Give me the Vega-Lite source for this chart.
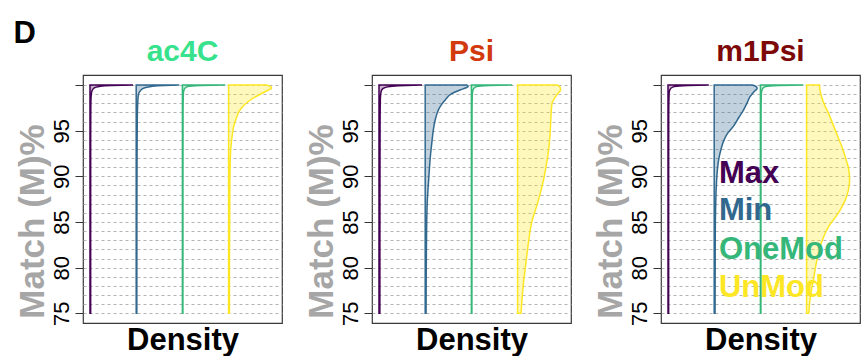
{
  "$schema": "https://vega.github.io/schema/vega-lite/v6.json",
  "padding": {"left": 13, "top": 18, "right": 0, "bottom": 0},
  "background": "white",
  "title": {"text": "D", "anchor": "start", "fontSize": 31, "fontWeight": "bold", "color": "#000000", "font": "Liberation Sans", "baseline": "alphabetic", "offset": -38, "dx": -1},
  "config": {
    "font": "Liberation Sans",
    "view": {"stroke": "#3a3a3a", "strokeWidth": 1.2},
    "concat": {"spacing": 20}
  },
  "datasets": {
    "dens": [
      {"p":"ac4C","g":"Max","y":75,"d":0.015},{"p":"ac4C","g":"Max","y":85,"d":0.015},{"p":"ac4C","g":"Max","y":95,"d":0.016},{"p":"ac4C","g":"Max","y":98,"d":0.02},{"p":"ac4C","g":"Max","y":99,"d":0.03},{"p":"ac4C","g":"Max","y":99.4,"d":0.05},{"p":"ac4C","g":"Max","y":99.7,"d":0.1},{"p":"ac4C","g":"Max","y":99.85,"d":0.22},{"p":"ac4C","g":"Max","y":99.95,"d":0.5},{"p":"ac4C","g":"Max","y":100,"d":1},
      {"p":"ac4C","g":"Min","y":75,"d":0.015},{"p":"ac4C","g":"Min","y":85,"d":0.016},{"p":"ac4C","g":"Min","y":92,"d":0.02},{"p":"ac4C","g":"Min","y":96,"d":0.025},{"p":"ac4C","g":"Min","y":98,"d":0.035},{"p":"ac4C","g":"Min","y":98.9,"d":0.05},{"p":"ac4C","g":"Min","y":99.45,"d":0.11},{"p":"ac4C","g":"Min","y":99.7,"d":0.2},{"p":"ac4C","g":"Min","y":99.85,"d":0.35},{"p":"ac4C","g":"Min","y":99.95,"d":0.65},{"p":"ac4C","g":"Min","y":100,"d":1},
      {"p":"ac4C","g":"OneMod","y":75,"d":0.012},{"p":"ac4C","g":"OneMod","y":90,"d":0.013},{"p":"ac4C","g":"OneMod","y":97,"d":0.015},{"p":"ac4C","g":"OneMod","y":99,"d":0.022},{"p":"ac4C","g":"OneMod","y":99.5,"d":0.04},{"p":"ac4C","g":"OneMod","y":99.8,"d":0.1},{"p":"ac4C","g":"OneMod","y":99.93,"d":0.3},{"p":"ac4C","g":"OneMod","y":100,"d":1},
      {"p":"ac4C","g":"UnMod","y":75,"d":0.02},{"p":"ac4C","g":"UnMod","y":80,"d":0.02},{"p":"ac4C","g":"UnMod","y":85,"d":0.025},{"p":"ac4C","g":"UnMod","y":88,"d":0.028},{"p":"ac4C","g":"UnMod","y":91,"d":0.035},{"p":"ac4C","g":"UnMod","y":93,"d":0.05},{"p":"ac4C","g":"UnMod","y":94.7,"d":0.09},{"p":"ac4C","g":"UnMod","y":95.5,"d":0.12},{"p":"ac4C","g":"UnMod","y":96.5,"d":0.19},{"p":"ac4C","g":"UnMod","y":97,"d":0.23},{"p":"ac4C","g":"UnMod","y":97.6,"d":0.32},{"p":"ac4C","g":"UnMod","y":98.2,"d":0.46},{"p":"ac4C","g":"UnMod","y":98.7,"d":0.62},{"p":"ac4C","g":"UnMod","y":99.1,"d":0.78},{"p":"ac4C","g":"UnMod","y":99.4,"d":0.9},{"p":"ac4C","g":"UnMod","y":99.65,"d":1.0},{"p":"ac4C","g":"UnMod","y":99.85,"d":0.97},{"p":"ac4C","g":"UnMod","y":100,"d":0.87},
      {"p":"Psi","g":"Max","y":75,"d":0.02},{"p":"Psi","g":"Max","y":90,"d":0.022},{"p":"Psi","g":"Max","y":96,"d":0.025},{"p":"Psi","g":"Max","y":98.5,"d":0.032},{"p":"Psi","g":"Max","y":99.3,"d":0.05},{"p":"Psi","g":"Max","y":99.6,"d":0.09},{"p":"Psi","g":"Max","y":99.8,"d":0.2},{"p":"Psi","g":"Max","y":99.92,"d":0.45},{"p":"Psi","g":"Max","y":100,"d":1},
      {"p":"Psi","g":"Min","y":75,"d":0.02},{"p":"Psi","g":"Min","y":80,"d":0.025},{"p":"Psi","g":"Min","y":85,"d":0.035},{"p":"Psi","g":"Min","y":87.4,"d":0.05},{"p":"Psi","g":"Min","y":89.6,"d":0.08},{"p":"Psi","g":"Min","y":91,"d":0.1},{"p":"Psi","g":"Min","y":92.2,"d":0.12},{"p":"Psi","g":"Min","y":93.5,"d":0.15},{"p":"Psi","g":"Min","y":95.1,"d":0.19},{"p":"Psi","g":"Min","y":96.5,"d":0.25},{"p":"Psi","g":"Min","y":97.3,"d":0.31},{"p":"Psi","g":"Min","y":97.8,"d":0.37},{"p":"Psi","g":"Min","y":98.4,"d":0.47},{"p":"Psi","g":"Min","y":99,"d":0.6},{"p":"Psi","g":"Min","y":99.45,"d":0.81},{"p":"Psi","g":"Min","y":99.7,"d":0.95},{"p":"Psi","g":"Min","y":99.85,"d":1.0},{"p":"Psi","g":"Min","y":100,"d":0.97},
      {"p":"Psi","g":"OneMod","y":75,"d":0.012},{"p":"Psi","g":"OneMod","y":90,"d":0.013},{"p":"Psi","g":"OneMod","y":97,"d":0.015},{"p":"Psi","g":"OneMod","y":99,"d":0.022},{"p":"Psi","g":"OneMod","y":99.5,"d":0.04},{"p":"Psi","g":"OneMod","y":99.8,"d":0.1},{"p":"Psi","g":"OneMod","y":99.93,"d":0.3},{"p":"Psi","g":"OneMod","y":100,"d":0.95},
      {"p":"Psi","g":"UnMod","y":75,"d":0.08},{"p":"Psi","g":"UnMod","y":78,"d":0.13},{"p":"Psi","g":"UnMod","y":80,"d":0.18},{"p":"Psi","g":"UnMod","y":83,"d":0.26},{"p":"Psi","g":"UnMod","y":85,"d":0.33},{"p":"Psi","g":"UnMod","y":87,"d":0.46},{"p":"Psi","g":"UnMod","y":88,"d":0.52},{"p":"Psi","g":"UnMod","y":90,"d":0.62},{"p":"Psi","g":"UnMod","y":91,"d":0.66},{"p":"Psi","g":"UnMod","y":92.5,"d":0.71},{"p":"Psi","g":"UnMod","y":94.3,"d":0.75},{"p":"Psi","g":"UnMod","y":96,"d":0.77},{"p":"Psi","g":"UnMod","y":97,"d":0.78},{"p":"Psi","g":"UnMod","y":98,"d":0.8},{"p":"Psi","g":"UnMod","y":98.7,"d":0.88},{"p":"Psi","g":"UnMod","y":99.1,"d":0.94},{"p":"Psi","g":"UnMod","y":99.45,"d":1.0},{"p":"Psi","g":"UnMod","y":99.75,"d":0.99},{"p":"Psi","g":"UnMod","y":100,"d":0.93},
      {"p":"m1Psi","g":"Max","y":75,"d":0.015},{"p":"m1Psi","g":"Max","y":90,"d":0.015},{"p":"m1Psi","g":"Max","y":97,"d":0.017},{"p":"m1Psi","g":"Max","y":99,"d":0.025},{"p":"m1Psi","g":"Max","y":99.5,"d":0.045},{"p":"m1Psi","g":"Max","y":99.8,"d":0.12},{"p":"m1Psi","g":"Max","y":99.93,"d":0.35},{"p":"m1Psi","g":"Max","y":100,"d":0.95},
      {"p":"m1Psi","g":"Min","y":75,"d":0.02},{"p":"m1Psi","g":"Min","y":84,"d":0.025},{"p":"m1Psi","g":"Min","y":87,"d":0.035},{"p":"m1Psi","g":"Min","y":89,"d":0.05},{"p":"m1Psi","g":"Min","y":91,"d":0.08},{"p":"m1Psi","g":"Min","y":92,"d":0.11},{"p":"m1Psi","g":"Min","y":93,"d":0.16},{"p":"m1Psi","g":"Min","y":94,"d":0.23},{"p":"m1Psi","g":"Min","y":94.7,"d":0.31},{"p":"m1Psi","g":"Min","y":95.5,"d":0.45},{"p":"m1Psi","g":"Min","y":96.5,"d":0.58},{"p":"m1Psi","g":"Min","y":97,"d":0.65},{"p":"m1Psi","g":"Min","y":98,"d":0.76},{"p":"m1Psi","g":"Min","y":98.7,"d":0.83},{"p":"m1Psi","g":"Min","y":99.3,"d":0.93},{"p":"m1Psi","g":"Min","y":99.65,"d":1.0},{"p":"m1Psi","g":"Min","y":99.85,"d":0.97},{"p":"m1Psi","g":"Min","y":100,"d":0.88},
      {"p":"m1Psi","g":"OneMod","y":75,"d":0.012},{"p":"m1Psi","g":"OneMod","y":90,"d":0.013},{"p":"m1Psi","g":"OneMod","y":97,"d":0.015},{"p":"m1Psi","g":"OneMod","y":99,"d":0.022},{"p":"m1Psi","g":"OneMod","y":99.5,"d":0.04},{"p":"m1Psi","g":"OneMod","y":99.8,"d":0.1},{"p":"m1Psi","g":"OneMod","y":99.93,"d":0.3},{"p":"m1Psi","g":"OneMod","y":100,"d":1},
      {"p":"m1Psi","g":"UnMod","y":75,"d":0.05},{"p":"m1Psi","g":"UnMod","y":76.9,"d":0.09},{"p":"m1Psi","g":"UnMod","y":78.7,"d":0.16},{"p":"m1Psi","g":"UnMod","y":80.6,"d":0.23},{"p":"m1Psi","g":"UnMod","y":82.8,"d":0.35},{"p":"m1Psi","g":"UnMod","y":84.5,"d":0.51},{"p":"m1Psi","g":"UnMod","y":86,"d":0.74},{"p":"m1Psi","g":"UnMod","y":87.8,"d":0.93},{"p":"m1Psi","g":"UnMod","y":89,"d":0.99},{"p":"m1Psi","g":"UnMod","y":89.8,"d":1.0},{"p":"m1Psi","g":"UnMod","y":91,"d":0.97},{"p":"m1Psi","g":"UnMod","y":91.8,"d":0.92},{"p":"m1Psi","g":"UnMod","y":93,"d":0.84},{"p":"m1Psi","g":"UnMod","y":94.3,"d":0.73},{"p":"m1Psi","g":"UnMod","y":95.5,"d":0.63},{"p":"m1Psi","g":"UnMod","y":96.9,"d":0.51},{"p":"m1Psi","g":"UnMod","y":97.8,"d":0.42},{"p":"m1Psi","g":"UnMod","y":98.7,"d":0.35},{"p":"m1Psi","g":"UnMod","y":99.5,"d":0.31},{"p":"m1Psi","g":"UnMod","y":100,"d":0.3}
    ],
    "leg": [
      {"g":"Max","y":89.3},{"g":"Min","y":85.2},{"g":"OneMod","y":81.0},{"g":"UnMod","y":76.75}
    ]
  },
  "hconcat": [
    {
      "width": 199, "height": 248,
      "title": {"text": "ac4C", "color": "#38e28c", "fontSize": 30, "fontWeight": "bold", "font": "Liberation Sans", "baseline": "alphabetic", "offset": -16},
      "encoding": {"y": {"field": "y", "type": "quantitative", "title": "Match (M)%", "scale": {"domain": [73.94, 101.1], "nice": false, "zero": false},
        "axis": {"values": [75,76,77,78,79,80,81,82,83,84,85,86,87,88,89,90,91,92,93,94,95,96,97,98,99,100], "labelExpr": "datum.value % 5 === 0 && datum.value < 100 ? datum.label : ''", "tickOpacity": {"condition": {"test": "datum.value % 5 === 0", "value": 1}, "value": 0}, "tickSize": 8, "tickColor": "#333333", "domain": false, "grid": true, "gridDash": [3, 3], "gridColor": "#b3b3b3", "gridWidth": 1, "labelAngle": 270, "labelAlign": "center", "labelBaseline": "alphabetic", "labelPadding": 7, "labelFontSize": 22, "labelColor": "#000000", "labelFont": "Liberation Sans", "titleFontSize": 35, "titleFont": "Liberation Sans", "titleFontWeight": "bold", "titleColor": "#a6a6a6", "titlePadding": 0, "titleY": 146}}},
      "layer": [
        {"data": {"name": "dens"}, "transform": [{"filter": "datum.p === 'ac4C' && datum.g === 'Max'"}], "mark": {"type": "area", "orient": "horizontal", "interpolate": "monotone", "fill": "#440154", "fillOpacity": 0.3, "stroke": "#440154", "strokeWidth": 1.5}, "encoding": {"x": {"field": "d", "type": "quantitative", "scale": {"domain": [-0.1628, 4.4651], "nice": false, "zero": false}, "axis": {"title": "Density", "labels": false, "ticks": false, "domain": false, "grid": false, "titleFontSize": 31, "titleFont": "Liberation Sans", "titleFontWeight": "bold", "titleColor": "#000000", "titlePadding": 2}}, "x2": {"datum": 0}}},
        {"data": {"name": "dens"}, "transform": [{"filter": "datum.p === 'ac4C' && datum.g === 'Min'"}], "mark": {"type": "area", "orient": "horizontal", "interpolate": "monotone", "fill": "#31688E", "fillOpacity": 0.3, "stroke": "#31688E", "strokeWidth": 1.5}, "encoding": {"x": {"field": "d", "type": "quantitative", "scale": {"domain": [-1.2372, 3.3907], "nice": false, "zero": false}, "axis": null}, "x2": {"datum": 0}}},
        {"data": {"name": "dens"}, "transform": [{"filter": "datum.p === 'ac4C' && datum.g === 'OneMod'"}], "mark": {"type": "area", "orient": "horizontal", "interpolate": "monotone", "fill": "#35B779", "fillOpacity": 0.3, "stroke": "#35B779", "strokeWidth": 1.5}, "encoding": {"x": {"field": "d", "type": "quantitative", "scale": {"domain": [-2.3116, 2.3163], "nice": false, "zero": false}, "axis": null}, "x2": {"datum": 0}}},
        {"data": {"name": "dens"}, "transform": [{"filter": "datum.p === 'ac4C' && datum.g === 'UnMod'"}], "mark": {"type": "area", "orient": "horizontal", "interpolate": "monotone", "fill": "#FDE725", "fillOpacity": 0.3, "stroke": "#FDE725", "strokeWidth": 1.5}, "encoding": {"x": {"field": "d", "type": "quantitative", "scale": {"domain": [-3.386, 1.2419], "nice": false, "zero": false}, "axis": null}, "x2": {"datum": 0}}}
      ],
      "resolve": {"scale": {"x": "independent"}, "axis": {"x": "independent"}}
    },
    {
      "width": 199, "height": 248,
      "title": {"text": "Psi", "color": "#d2390c", "fontSize": 30, "fontWeight": "bold", "font": "Liberation Sans", "baseline": "alphabetic", "offset": -16},
      "encoding": {"y": {"field": "y", "type": "quantitative", "title": "Match (M)%", "scale": {"domain": [73.94, 101.1], "nice": false, "zero": false},
        "axis": {"values": [75,76,77,78,79,80,81,82,83,84,85,86,87,88,89,90,91,92,93,94,95,96,97,98,99,100], "labelExpr": "datum.value % 5 === 0 && datum.value < 100 ? datum.label : ''", "tickOpacity": {"condition": {"test": "datum.value % 5 === 0", "value": 1}, "value": 0}, "tickSize": 8, "tickColor": "#333333", "domain": false, "grid": true, "gridDash": [3, 3], "gridColor": "#b3b3b3", "gridWidth": 1, "labelAngle": 270, "labelAlign": "center", "labelBaseline": "alphabetic", "labelPadding": 7, "labelFontSize": 22, "labelColor": "#000000", "labelFont": "Liberation Sans", "titleFontSize": 35, "titleFont": "Liberation Sans", "titleFontWeight": "bold", "titleColor": "#a6a6a6", "titlePadding": 0, "titleY": 146}}},
      "layer": [
        {"data": {"name": "dens"}, "transform": [{"filter": "datum.p === 'Psi' && datum.g === 'Max'"}], "mark": {"type": "area", "orient": "horizontal", "interpolate": "monotone", "fill": "#440154", "fillOpacity": 0.3, "stroke": "#440154", "strokeWidth": 1.5}, "encoding": {"x": {"field": "d", "type": "quantitative", "scale": {"domain": [-0.1628, 4.4651], "nice": false, "zero": false}, "axis": {"title": "Density", "labels": false, "ticks": false, "domain": false, "grid": false, "titleFontSize": 31, "titleFont": "Liberation Sans", "titleFontWeight": "bold", "titleColor": "#000000", "titlePadding": 2}}, "x2": {"datum": 0}}},
        {"data": {"name": "dens"}, "transform": [{"filter": "datum.p === 'Psi' && datum.g === 'Min'"}], "mark": {"type": "area", "orient": "horizontal", "interpolate": "monotone", "fill": "#31688E", "fillOpacity": 0.3, "stroke": "#31688E", "strokeWidth": 1.5}, "encoding": {"x": {"field": "d", "type": "quantitative", "scale": {"domain": [-1.2372, 3.3907], "nice": false, "zero": false}, "axis": null}, "x2": {"datum": 0}}},
        {"data": {"name": "dens"}, "transform": [{"filter": "datum.p === 'Psi' && datum.g === 'OneMod'"}], "mark": {"type": "area", "orient": "horizontal", "interpolate": "monotone", "fill": "#35B779", "fillOpacity": 0.3, "stroke": "#35B779", "strokeWidth": 1.5}, "encoding": {"x": {"field": "d", "type": "quantitative", "scale": {"domain": [-2.3116, 2.3163], "nice": false, "zero": false}, "axis": null}, "x2": {"datum": 0}}},
        {"data": {"name": "dens"}, "transform": [{"filter": "datum.p === 'Psi' && datum.g === 'UnMod'"}], "mark": {"type": "area", "orient": "horizontal", "interpolate": "monotone", "fill": "#FDE725", "fillOpacity": 0.3, "stroke": "#FDE725", "strokeWidth": 1.5}, "encoding": {"x": {"field": "d", "type": "quantitative", "scale": {"domain": [-3.386, 1.2419], "nice": false, "zero": false}, "axis": null}, "x2": {"datum": 0}}}
      ],
      "resolve": {"scale": {"x": "independent"}, "axis": {"x": "independent"}}
    },
    {
      "width": 199, "height": 248,
      "title": {"text": "m1Psi", "color": "#7d0808", "fontSize": 30, "fontWeight": "bold", "font": "Liberation Sans", "baseline": "alphabetic", "offset": -16},
      "encoding": {"y": {"field": "y", "type": "quantitative", "title": "Match (M)%", "scale": {"domain": [73.94, 101.1], "nice": false, "zero": false},
        "axis": {"values": [75,76,77,78,79,80,81,82,83,84,85,86,87,88,89,90,91,92,93,94,95,96,97,98,99,100], "labelExpr": "datum.value % 5 === 0 && datum.value < 100 ? datum.label : ''", "tickOpacity": {"condition": {"test": "datum.value % 5 === 0", "value": 1}, "value": 0}, "tickSize": 8, "tickColor": "#333333", "domain": false, "grid": true, "gridDash": [3, 3], "gridColor": "#b3b3b3", "gridWidth": 1, "labelAngle": 270, "labelAlign": "center", "labelBaseline": "alphabetic", "labelPadding": 7, "labelFontSize": 22, "labelColor": "#000000", "labelFont": "Liberation Sans", "titleFontSize": 35, "titleFont": "Liberation Sans", "titleFontWeight": "bold", "titleColor": "#a6a6a6", "titlePadding": 0, "titleY": 146}}},
      "layer": [
        {"data": {"name": "dens"}, "transform": [{"filter": "datum.p === 'm1Psi' && datum.g === 'Max'"}], "mark": {"type": "area", "orient": "horizontal", "interpolate": "monotone", "fill": "#440154", "fillOpacity": 0.3, "stroke": "#440154", "strokeWidth": 1.5}, "encoding": {"x": {"field": "d", "type": "quantitative", "scale": {"domain": [-0.1628, 4.4651], "nice": false, "zero": false}, "axis": {"title": "Density", "labels": false, "ticks": false, "domain": false, "grid": false, "titleFontSize": 31, "titleFont": "Liberation Sans", "titleFontWeight": "bold", "titleColor": "#000000", "titlePadding": 2}}, "x2": {"datum": 0}}},
        {"data": {"name": "dens"}, "transform": [{"filter": "datum.p === 'm1Psi' && datum.g === 'Min'"}], "mark": {"type": "area", "orient": "horizontal", "interpolate": "monotone", "fill": "#31688E", "fillOpacity": 0.3, "stroke": "#31688E", "strokeWidth": 1.5}, "encoding": {"x": {"field": "d", "type": "quantitative", "scale": {"domain": [-1.2372, 3.3907], "nice": false, "zero": false}, "axis": null}, "x2": {"datum": 0}}},
        {"data": {"name": "dens"}, "transform": [{"filter": "datum.p === 'm1Psi' && datum.g === 'OneMod'"}], "mark": {"type": "area", "orient": "horizontal", "interpolate": "monotone", "fill": "#35B779", "fillOpacity": 0.3, "stroke": "#35B779", "strokeWidth": 1.5}, "encoding": {"x": {"field": "d", "type": "quantitative", "scale": {"domain": [-2.3116, 2.3163], "nice": false, "zero": false}, "axis": null}, "x2": {"datum": 0}}},
        {"data": {"name": "dens"}, "transform": [{"filter": "datum.p === 'm1Psi' && datum.g === 'UnMod'"}], "mark": {"type": "area", "orient": "horizontal", "interpolate": "monotone", "fill": "#FDE725", "fillOpacity": 0.3, "stroke": "#FDE725", "strokeWidth": 1.5}, "encoding": {"x": {"field": "d", "type": "quantitative", "scale": {"domain": [-3.386, 1.2419], "nice": false, "zero": false}, "axis": null}, "x2": {"datum": 0}}},
        {"data": {"name": "leg"}, "mark": {"type": "text", "align": "left", "baseline": "alphabetic", "font": "Liberation Sans", "fontWeight": "bold", "fontSize": 31}, "encoding": {"x": {"datum": 0.291, "type": "quantitative", "scale": {"domain": [0, 1], "nice": false, "zero": false}, "axis": null}, "text": {"field": "g", "type": "nominal"}, "color": {"field": "g", "type": "nominal", "scale": {"domain": ["Max", "Min", "OneMod", "UnMod"], "range": ["#440154", "#31688E", "#35B779", "#FDE725"]}, "legend": null}}}
      ],
      "resolve": {"scale": {"x": "independent"}, "axis": {"x": "independent"}}
    }
  ]
}
